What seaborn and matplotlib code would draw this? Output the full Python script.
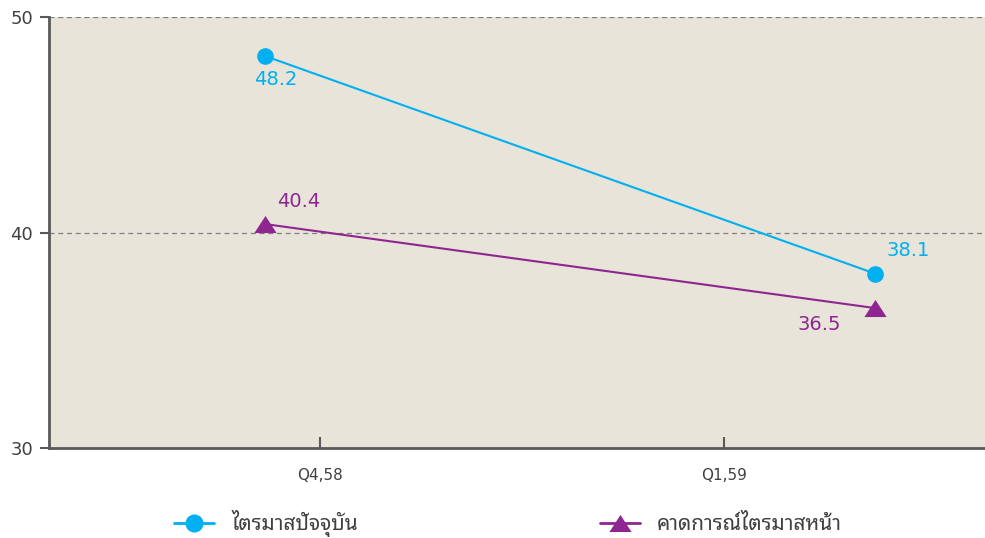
import matplotlib
matplotlib.use("Agg")
import matplotlib.pyplot as plt
import seaborn as sns
import pandas as pd

categories = ["Q4,58", "Q1,59"]
series_names = ["ไตรมาสปัจจุบัน", "คาดการณ์ไตรมาสหน้า"]
current_q = [48.2, 38.1]
next_q = [40.4, 36.5]
y_ticks = [30, 40, 50]

sns.set_theme(style="white")
plt.rcParams['font.family'] = ['DejaVu Sans', 'Noto Sans Thai Looped', 'Loma']

rows = []
for i, c in enumerate(categories):
    rows.append({"x": i, "cat": c, "value": current_q[i], "series": series_names[0]})
    rows.append({"x": i, "cat": c, "value": next_q[i], "series": series_names[1]})
df = pd.DataFrame(rows)

blue = "#00B0F0"
purple = "#8E2590"
wide_tri = [(-1.3, -1.0), (1.3, -1.0), (0.0, 1.0), (-1.3, -1.0)]

fig = plt.figure(figsize=(9.85, 5.38), dpi=100)
ax = fig.add_axes([0.0497, 0.167, 0.9503, 0.801])
ax.set_facecolor("#E8E4DA")

sns.lineplot(data=df, x="x", y="value", hue="series", style="series",
             palette={series_names[0]: blue, series_names[1]: purple},
             markers={series_names[0]: "o", series_names[1]: wide_tri},
             dashes=False, markersize=12, linewidth=1.5, markeredgewidth=0,
             ax=ax)
for ln in ax.lines:
    if ln.get_color() == purple or ln.get_color().lower() == purple.lower():
        ln.set_markersize(16)

ax.set_ylim(30, 50)
ax.set_xlim(-0.354, 1.18)
ax.set_yticks(y_ticks)
ax.set_xticks([0.09, 0.752])
ax.set_xticklabels(categories)
ax.set_xlabel("")
ax.set_ylabel("")

for y in [40, 50]:
    ax.axhline(y, color="#808080", linestyle=(0, (4, 3)), linewidth=0.9, zorder=0.5)

for s in ["top", "right"]:
    ax.spines[s].set_visible(False)
for s in ["left", "bottom"]:
    ax.spines[s].set_color("#595959")
    ax.spines[s].set_linewidth(2)

ax.tick_params(axis="y", which="both", left=True, direction="out", length=6.5, width=1.5,
               color="#595959", labelsize=13, labelcolor="#404040", pad=5)
ax.tick_params(axis="x", which="both", bottom=True, direction="in", length=8, width=1.5,
               color="#595959", labelsize=11, labelcolor="#404040", pad=14)

lab_fs = 14
ax.annotate(f"{current_q[0]}", (0, current_q[0]), xytext=(8, -17), textcoords="offset points",
            ha="center", va="center", color=blue, fontsize=lab_fs)
ax.annotate(f"{current_q[1]}", (1, current_q[1]), xytext=(24, 17), textcoords="offset points",
            ha="center", va="center", color=blue, fontsize=lab_fs)
ax.annotate(f"{next_q[0]}", (0, next_q[0]), xytext=(24, 16), textcoords="offset points",
            ha="center", va="center", color=purple, fontsize=lab_fs)
ax.annotate(f"{next_q[1]}", (1, next_q[1]), xytext=(-40, -12), textcoords="offset points",
            ha="center", va="center", color=purple, fontsize=lab_fs)

handles, labels = ax.get_legend_handles_labels()
for h in handles:
    if h.get_color() == purple:
        h.set_markersize(16)
    else:
        h.set_markersize(13)
    h.set_linewidth(2)
ax.legend(handles, labels, loc="upper left", bbox_to_anchor=(0.114, -0.1),
          ncol=2, frameon=False, fontsize=15, columnspacing=11.6, handlelength=1.92,
          handletextpad=0.82, labelcolor="#404040")

fig.savefig("out.png", dpi=100)
